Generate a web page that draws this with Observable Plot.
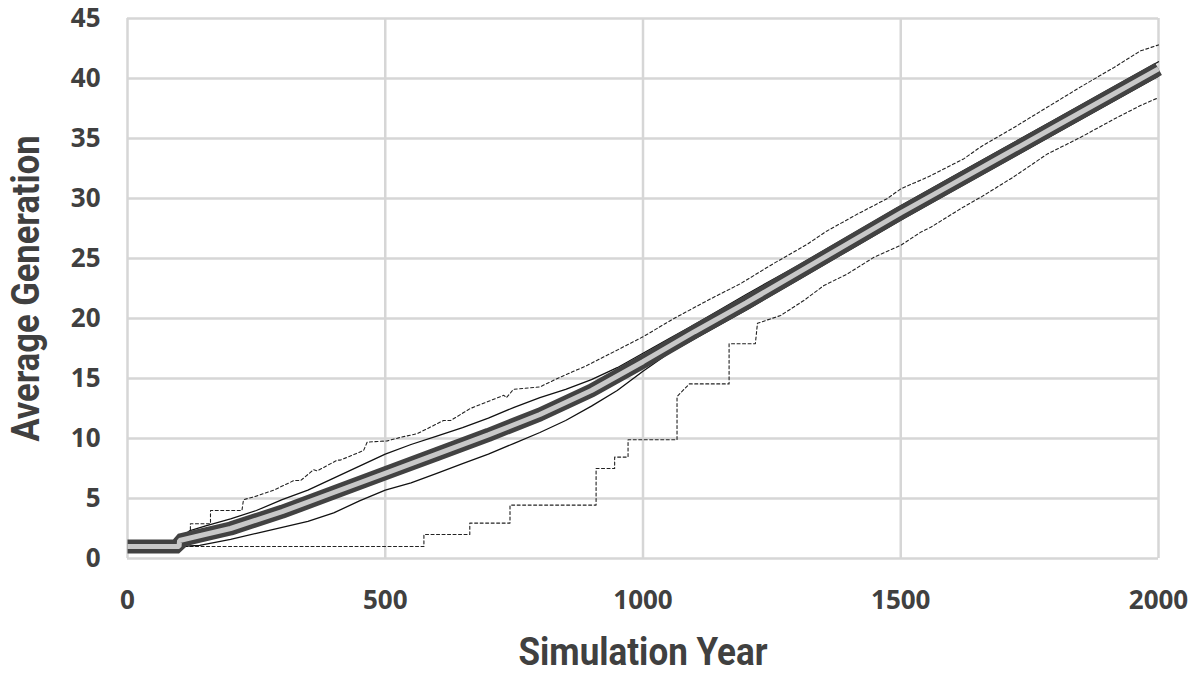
<!DOCTYPE html>
<html><head><meta charset="utf-8">
<script src="https://cdn.jsdelivr.net/npm/d3@7"></script>
<script src="https://cdn.jsdelivr.net/npm/@observablehq/plot@0.6"></script>
<style>body{margin:0;background:#fff;} svg{display:block;}</style>
</head><body><div id="chart"></div>
<script>
const xTicks = [0, 500, 1000, 1500, 2000];
const yTicks = [0, 5, 10, 15, 20, 25, 30, 35, 40, 45];

const meanYears  = [0, 100, 101, 150, 200, 300, 400, 500, 600, 700, 800, 900, 1000, 1100, 1200, 1300, 1400, 1500, 1600, 1700, 1800, 1900, 2000];
const meanValues = [1.0, 1.0, 1.5, 2.0, 2.5, 3.9, 5.5, 7.1, 8.7, 10.3, 12.0, 14.0, 16.4, 18.9, 21.3, 23.8, 26.3, 28.8, 31.2, 33.6, 36.0, 38.4, 40.8];

const sdUpperYears  = [100, 120, 150, 200, 250, 300, 350, 400, 450, 500, 550, 600, 650, 700, 750, 800, 850, 900, 950, 1000, 1050, 1100, 1200, 1300, 1400, 1500, 1600, 1700, 1800, 1900, 2000];
const sdUpperValues = [1.6, 2.3, 2.7, 3.3, 4.0, 4.9, 5.7, 6.7, 7.7, 8.7, 9.5, 10.2, 10.9, 11.7, 12.6, 13.4, 14.1, 14.9, 15.9, 17.1, 18.3, 19.5, 22.0, 24.4, 26.9, 29.4, 31.8, 34.2, 36.6, 39.0, 41.4];

const sdLowerYears  = [100, 140, 200, 250, 300, 350, 400, 450, 500, 550, 600, 650, 700, 750, 800, 850, 900, 950, 1000, 1050, 1100, 1200, 1300, 1400, 1500, 1600, 1700, 1800, 1900, 2000];
const sdLowerValues = [1.0, 1.1, 1.6, 2.1, 2.6, 3.1, 3.8, 4.8, 5.7, 6.3, 7.1, 7.9, 8.7, 9.6, 10.5, 11.5, 12.7, 14.0, 15.6, 17.1, 18.3, 20.7, 23.2, 25.7, 28.2, 30.6, 33.0, 35.4, 37.8, 40.2];

const maxYears  = [100, 122, 122, 161, 161, 222, 225, 250, 284, 323, 336, 361, 368, 407, 413, 458, 465, 504, 530, 562, 613, 627, 665, 730, 735, 749, 800, 834, 892, 956, 1001, 1060, 1125, 1189, 1254, 1319, 1357, 1416, 1474, 1500, 1558, 1622, 1655, 1719, 1784, 1849, 1913, 1965, 2000];
const maxValues = [1.6, 2.1, 2.9, 2.9, 4.0, 4.0, 4.9, 5.2, 5.7, 6.5, 6.5, 7.4, 7.3, 8.2, 8.2, 9.0, 9.7, 9.8, 10.1, 10.4, 11.5, 11.5, 12.5, 13.6, 13.4, 14.1, 14.3, 15.0, 16.1, 17.5, 18.5, 20.0, 21.5, 22.9, 24.6, 26.2, 27.3, 28.7, 30.0, 30.8, 31.9, 33.3, 34.3, 35.9, 37.6, 39.3, 40.9, 42.3, 42.8];

const minYears  = [100, 575, 575, 664, 664, 742, 742, 909, 909, 945, 945, 971, 971, 1066, 1066, 1090, 1167, 1167, 1218, 1222, 1267, 1312, 1351, 1396, 1448, 1500, 1539, 1558, 1622, 1655, 1719, 1784, 1849, 1913, 1965, 2000];
const minValues = [1.0, 1.0, 2.0, 2.0, 2.95, 2.95, 4.45, 4.45, 7.5, 7.5, 8.45, 8.45, 9.9, 9.9, 13.5, 14.55, 14.55, 17.9, 17.9, 19.6, 20.25, 21.5, 22.75, 23.7, 25.1, 26.1, 27.2, 27.6, 29.3, 30.1, 31.8, 33.7, 35.1, 36.6, 37.75, 38.4];

const xTitle = "Simulation Year";
const yTitle = "Average Generation";

const rows = (xs, ys) => xs.map((x, i) => ({year: x, value: ys[i]}));
const meanRows = rows(meanYears, meanValues);
const upRows = rows(sdUpperYears, sdUpperValues);
const loRows = rows(sdLowerYears, sdLowerValues);
const maxRows = rows(maxYears, maxValues);
const minRows = rows(minYears, minValues);

const tickFont = {fontSize: 26, fontWeight: "bold", fontFamily: "'Open Sans', sans-serif", color: "#404040"};
const titleFont = {fontSize: 38, fontWeight: "bold", fontFamily: "Roboto, 'Liberation Sans', sans-serif", fill: "#404040", textAnchor: "middle", lineAnchor: "middle"};
const grid = {stroke: "#d6d6d6", strokeWidth: 2.5, strokeOpacity: 1};
const dotted = {x: "year", y: "value", stroke: "#222", strokeWidth: 1.1, strokeDasharray: "3,2.5"};
const thin = {x: "year", y: "value", stroke: "#111", strokeWidth: 1.3};

const chart = Plot.plot({
  width: 1200, height: 680,
  marginLeft: 127, marginRight: 42, marginTop: 18, marginBottom: 122,
  style: {background: "#fff"},
  x: {domain: [0, 2000]},
  y: {domain: [0, 45]},
  marks: [
    Plot.gridX(xTicks, grid),
    Plot.gridY(yTicks, grid),
    Plot.axisX(xTicks, {...tickFont, tickSize: 0, tickPadding: 32, tickFormat: d => String(d), label: null}),
    Plot.axisY(yTicks, {...tickFont, tickSize: 0, tickPadding: 27, tickFormat: d => String(d), label: null}),
    Plot.line(maxRows, dotted),
    Plot.line(minRows, dotted),
    Plot.line(upRows, thin),
    Plot.line(loRows, thin),
    Plot.line(meanRows, {x: "year", y: "value", stroke: "#424242", strokeWidth: 14, strokeLinecap: "butt", strokeLinejoin: "miter"}),
    Plot.line(meanRows, {x: "year", y: "value", stroke: "#c8c8c8", strokeWidth: 5, strokeLinecap: "butt", strokeLinejoin: "miter"}),
    Plot.text([xTitle], {...titleFont, text: d => d, frameAnchor: "bottom", dy: 94, className: "xtitle"}),
    Plot.text([yTitle], {...titleFont, text: d => d, frameAnchor: "left", dx: -101, dy: 0, rotate: -90, className: "ytitle"})
  ]
});
d3.select(chart).selectAll(".xtitle text").attr("textLength", 249).attr("lengthAdjust", "spacingAndGlyphs");
d3.select(chart).selectAll(".ytitle text").attr("textLength", 306).attr("lengthAdjust", "spacingAndGlyphs");
document.getElementById("chart").append(chart);
</script>
</body></html>
